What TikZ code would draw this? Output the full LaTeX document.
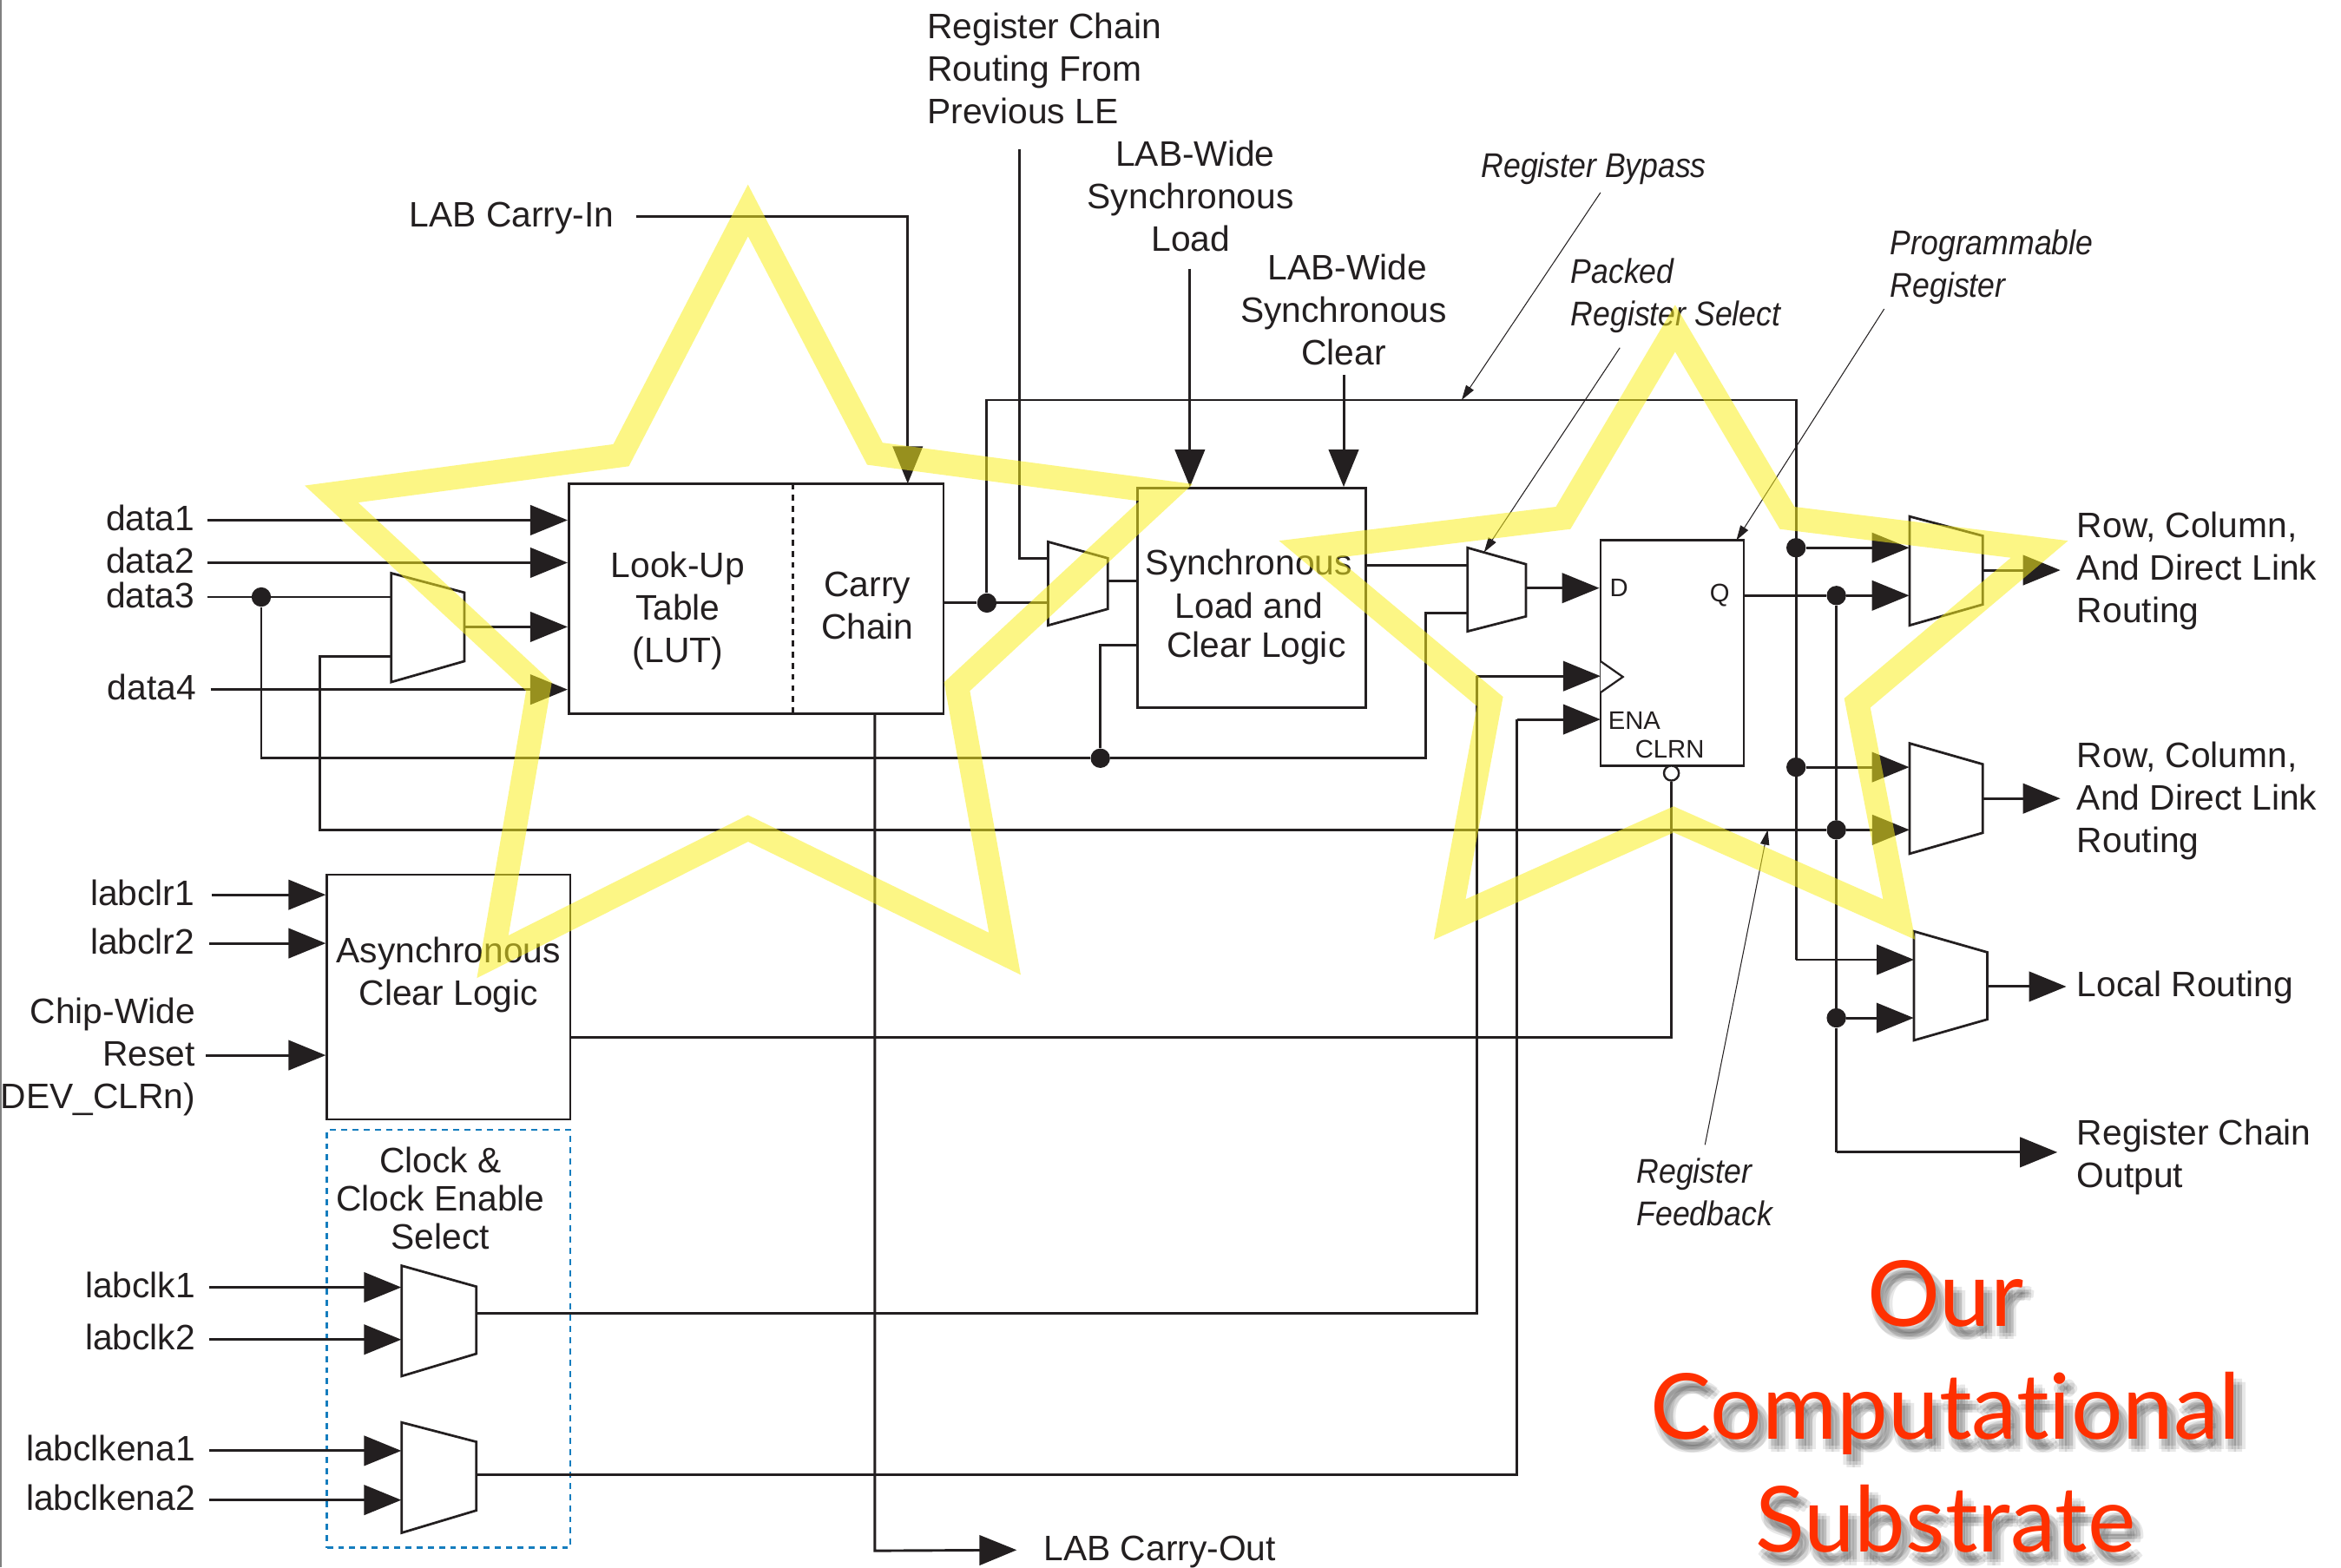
\documentclass[tikz,border=0pt]{standalone}
\usepackage{fontspec}
\setmainfont{Liberation Sans}
\newfontfamily\annotfont[FakeStretch=0.9]{Liberation Sans}
\newfontfamily\titlefont[Ligatures=NoCommon]{Lato}
\usetikzlibrary{arrows.meta,calc}
\definecolor{ink}{HTML}{231F20}
\definecolor{hilite}{RGB}{250,240,30}
\definecolor{titlered}{RGB}{255,48,0}
\definecolor{dashblue}{RGB}{20,125,190}
\tikzset{
  x=1pt,y=-1pt,
  wire/.style={draw=ink,line width=1.7pt,line join=miter},
  arr/.style={wire,-{Triangle[length=25pt,width=20pt]}},
  note/.style={draw=ink,line width=0.6pt,-{Triangle[length=10pt,width=6pt]}},
  lbl/.style={font=\fontsize{23.7}{28.5}\selectfont,text=ink,inner ysep=0pt,inner xsep=0pt,text height=17pt,text depth=3pt},
  mtext/.style={font=\fontsize{23.7}{28.5}\selectfont,text=ink,inner sep=0pt},
  itext/.style={font=\annotfont\itshape\fontsize{23}{28.5}\selectfont,text=ink,inner sep=0pt,align=left,anchor=west},
  small/.style={font=\fontsize{17}{20}\selectfont,text=ink,inner sep=0pt,anchor=west},
  box/.style={draw=ink,line width=1.6pt,fill=white,inner sep=0pt},
  dot/.style={circle,fill=ink,inner sep=0pt,minimum size=13pt},
  muxbody/.style={draw=ink,line width=1.6pt,fill=white,line join=miter},
  star/.style={draw=hilite,line width=16pt,opacity=0.54,line join=miter,miter limit=10},
  red/.style={font=\titlefont\fontsize{61}{76}\selectfont,inner sep=0pt,anchor=base},
}
% name, x left, x right, y top left, y top right, y bottom right, y bottom left
\newcommand{\muxblock}[7]{%
  \draw[muxbody] (#2,#4) -- (#3,#5) -- (#3,#6) -- (#2,#7) -- cycle;
  \node[inner sep=0pt,minimum width=#3pt-#2pt,minimum height=#7pt-#4pt] (#1) at ({(#2+#3)/2},{(#4+#7)/2}) {};
}
\begin{document}
\begin{tikzpicture}
\useasboundingbox (0,0) rectangle (1568,1050);
\fill[white] (0,0) rectangle (1568,1050);
\draw[gray,line width=1.5pt] (0.5,0) -- (0.5,1050);

% boxes
\node[box,minimum width=251pt,minimum height=154pt] (lut) at (506.5,401) {};
\node[box,minimum width=153pt,minimum height=147pt] (sync) at (838.5,400.5) {};
\node[box,minimum width=163pt,minimum height=164pt] (async) at (300.5,668) {};
\node[box,line width=1.5pt,minimum width=96pt,minimum height=151pt] (reg) at (1120,437.5) {};
\node[draw=dashblue,dashed,dash pattern=on 4pt off 3.5pt,line width=1.5pt,inner sep=0pt,minimum width=163pt,minimum height=280pt] (clkbox) at (300.5,897) {};
\coordinate (divT) at (531,324);
\coordinate (divB) at (531,478);
\draw[ink,line width=1.5pt,dash pattern=on 4pt off 3.5pt] (divT) -- (divB);

% muxes
\muxblock{mlut}{262}{311}{384}{397}{443}{457}
\muxblock{mcar}{702}{742}{363}{374}{408}{419}
\muxblock{mreg}{983}{1022}{367}{378}{413}{423}
\muxblock{mA}{1279}{1328}{346}{359}{405}{419}
\muxblock{mB}{1279}{1328}{498}{512}{558}{572}
\muxblock{mC}{1282}{1331}{624}{638}{683}{697}
\muxblock{mclk}{269}{319}{848}{862}{907}{922}
\muxblock{mena}{269}{319}{953}{966}{1012}{1027}

% box text
\node[mtext,align=center] (lutT) at (454,409.5) {Look-Up\\Table\\(LUT)};
\node[mtext,align=center] (carT) at (581,405.5) {Carry\\Chain};
\node[mtext] (syn1) at (836.5,379) {Synchronous};
\node[mtext] (syn2) at (836.5,405.5) {Load and};
\node[mtext] (syn3) at (841.5,434) {Clear Logic};
\node[mtext,align=center] (asyT) at (300.5,653) {Asynchronous\\Clear Logic};
\node[mtext,font=\fontsize{23.7}{25.5}\selectfont,align=center] (clkT) at (295,803) {Clock \&\\Clock Enable\\Select};
\node[small] (pD) at (1078,394) {D};
\node[small] (pQ) at (1145,399) {Q};
\node[small] (pE) at (1077,483) {ENA};
\node[small] (pC) at (1095,502) {CLRN};
\node[draw=ink,line width=1.4pt,fill=white,circle,inner sep=0pt,minimum size=10pt] (clrn) at (1119.5,518) {};
\coordinate (ck1) at (1072,443);
\coordinate (ck2) at (1087,453.5);
\coordinate (ck3) at (1072,464);
\draw[ink,line width=1.3pt,fill=white] (ck1) -- (ck2) -- (ck3);

% left labels
\node[lbl,anchor=east,inner xsep=8.5pt] (d1) at (139,348.5) {data1};
\node[lbl,anchor=east,inner xsep=8.5pt] (d2) at (139,377) {data2};
\node[lbl,anchor=east,inner xsep=8.5pt] (d3) at (139,400) {data3};
\node[lbl,anchor=east,inner xsep=9.5pt] (d4) at (141,462) {data4};
\node[lbl,anchor=east,inner xsep=11.5pt] (clr1) at (142,599.5) {labclr1};
\node[lbl,anchor=east,inner xsep=9.5pt] (clr2) at (140,632) {labclr2};
\node[lbl,anchor=east,inner xsep=9pt] (ck1l) at (140,862.5) {labclk1};
\node[lbl,anchor=east,inner xsep=9pt] (ck2l) at (140,897.5) {labclk2};
\node[lbl,anchor=east,inner xsep=9pt] (en1l) at (140,972) {labclkena1};
\node[lbl,anchor=east,inner xsep=9pt] (en2l) at (140,1005) {labclkena2};
\node[mtext,align=right,anchor=east,inner xsep=7pt] (chip) at (138,708) {Chip-Wide\\Reset\\DEV\_CLRn)};

% top and right labels
\node[lbl,anchor=east,inner xsep=14.5pt] (cin) at (426,145) {LAB Carry-In};
\node[mtext,align=left,anchor=west] (rchain) at (621,46) {Register Chain\\Routing From\\Previous LE};
\node[mtext,align=center] (lload) at (797.5,131.5) {\hspace*{6pt}LAB-Wide\\Synchronous\\Load};
\node[mtext,align=center] (lclear) at (900,207.5) {\hspace*{5pt}LAB-Wide\\Synchronous\\Clear};
\node[mtext,align=left,anchor=west,inner xsep=11pt] (rA) at (1380,382.5) {Row, Column,\\And Direct Link\\Routing};
\node[mtext,align=left,anchor=west,inner xsep=11pt] (rB) at (1380,536.5) {Row, Column,\\And Direct Link\\Routing};
\node[lbl,anchor=west,inner xsep=7pt] (lrout) at (1384,661) {Local Routing};
\node[mtext,align=left,anchor=west,inner xsep=13pt] (rcout) at (1378,775.5) {Register Chain\\Output};
\node[lbl,anchor=west,inner xsep=18pt] (cout) at (681,1038.5) {LAB Carry-Out};

% annotations
\node[itext] (nbyp) at (992,113) {Register Bypass};
\node[itext] (npack) at (1052,198) {Packed\\Register Select};
\node[itext] (nprog) at (1266,179) {Programmable\\Register};
\node[itext] (nfeed) at (1096,799) {Register\\Feedback};
\coordinate (nbypS) at (1072,129);
\coordinate (npackS) at (1085,233);
\coordinate (nprogS) at (1262,207);
\coordinate (nfeedS) at (1142,767);
\coordinate (topE) at (979,268);
\coordinate (fbE) at (1184,556);
\coordinate (mregN) at (994,370);
\coordinate (regN) at (1163,362);
\draw[note] (nbypS) -- (topE);
\draw[note] (npackS) -- (mregN);
\draw[note] (nprogS) -- (regN);
\draw[note] (nfeedS) -- (fbE);

% junctions
\node[dot] (jd3) at (175,400) {};
\node[dot] (jcar) at (661,404) {};
\node[dot] (jsel) at (737,508) {};
\node[dot] (jtopA) at (1203,367) {};
\node[dot] (jtopB) at (1203,514) {};
\node[dot] (jqA) at (1230,399) {};
\node[dot] (jqB) at (1230,556) {};
\node[dot] (jqC) at (1230,682) {};

% left inputs
\draw[arr] (d1.east) -- (d1.east -| lut.west);
\draw[arr] (d2.east) -- (d2.east -| lut.west);
\draw[wire] (d3.east) -- (d3.east -| mlut.west);
\draw[arr] (d4.east) -- (d4.east -| lut.west);
\coordinate (mlutO) at (311,420);
\draw[arr] (mlutO) -- (mlutO -| lut.west);
\draw[arr] (clr1.east) -- (clr1.east -| async.west);
\draw[arr] (clr2.east) -- (clr2.east -| async.west);
\coordinate (chipW) at (138,707);
\draw[arr] (chipW) -- (chipW -| async.west);
\draw[arr] (ck1l.east) -- (ck1l.east -| mclk.west);
\draw[arr] (ck2l.east) -- (ck2l.east -| mclk.west);
\draw[arr] (en1l.east) -- (en1l.east -| mena.west);
\draw[arr] (en2l.east) -- (en2l.east -| mena.west);

% shared buses
\coordinate (bus1a) at (175,508);
\coordinate (bus1b) at (955,508);
\coordinate (mregL) at (983,411);
\draw[wire] (jd3) -- (bus1a) -- (jsel) -- (bus1b) -- (bus1b |- mregL) -- (mregL);
\coordinate (syncSel) at (762,432);
\draw[wire] (jsel) -- (jsel |- syncSel) -- (syncSel);
\coordinate (mlutS) at (262,440);
\coordinate (bus2a) at (214,556);
\coordinate (bus2b) at (1279,556);
\draw[wire] (mlutS) -- (bus2a |- mlutS) -- (bus2a) -- (jqB);
\draw[arr] (jqB) -- (bus2b);

% carry chain
\coordinate (carO) at (632,404);
\draw[wire] (carO) -- (jcar) -- (jcar -| mcar.west);
\coordinate (carD) at (586,478);
\coordinate (carDb) at (586,1039);
\draw[arr] (carD) -- (carDb) -- (cout.west);
\coordinate (cinE) at (608,324);
\draw[arr] (cin.east) -- (cin.east -| cinE) -- (cinE);
\coordinate (rcS) at (683,100);
\coordinate (rcE) at (702,374);
\draw[wire] (rcS) -- (rcS |- rcE) -- (rcE);
\coordinate (mcarO) at (742,389);
\draw[wire] (mcarO) -- (mcarO -| sync.west);

% bypass
\coordinate (topL) at (661,268);
\coordinate (topR) at (1203,268);
\coordinate (locIn) at (1282,643);
\draw[wire] (jcar) -- (topL) -- (topR) -- (topR |- locIn);
\draw[arr] (topR |- locIn) -- (locIn);
\draw[arr] (jtopA) -- (jtopA -| mA.west);
\draw[arr] (jtopB) -- (jtopB -| mB.west);

% sync loads
\coordinate (loadS) at (797,180);
\coordinate (clearS) at (900,251);
\draw[arr] (loadS) -- (loadS |- sync.north);
\draw[arr] (clearS) -- (clearS |- sync.north);
\coordinate (syncO) at (915,379);
\draw[wire] (syncO) -- (syncO -| mreg.west);
\coordinate (mregO) at (1022,394);
\draw[arr] (mregO) -- (mregO -| reg.west);

% clock and enable
\coordinate (clkO) at (319,880);
\coordinate (clkV) at (989,880);
\coordinate (clkE) at (1072,453);
\draw[wire] (clkO) -- (clkV) -- (clkV |- clkE);
\draw[arr] (clkV |- clkE) -- (clkE);
\coordinate (enaO) at (319,988);
\coordinate (enaV) at (1016,988);
\coordinate (enaE) at (1072,482);
\draw[wire] (enaO) -- (enaV) -- (enaV |- enaE);
\draw[arr] (enaV |- enaE) -- (enaE);

% clear
\coordinate (asyO) at (382,695);
\draw[wire] (asyO) -- (asyO -| clrn.south) -- (clrn.south);

% register output
\coordinate (regQ) at (1168,399);
\draw[wire] (regQ) -- (jqA);
\draw[arr] (jqA) -- (jqA -| mA.west);
\draw[wire] (jqA) -- (jqB) -- (jqC);
\coordinate (qDown) at (1230,772);
\draw[wire] (jqC) -- (qDown);
\coordinate (rcoutE) at (1378,772);
\draw[arr] (qDown) -- (rcoutE);
\draw[arr] (jqC) -- (jqC -| mC.west);

% outputs
\coordinate (mAo) at (1328,382);
\coordinate (mBo) at (1328,535);
\coordinate (mCo) at (1331,661);
\draw[arr] (mAo) -- (mAo -| rA.west);
\draw[arr] (mBo) -- (mBo -| rB.west);
\draw[arr] (mCo) -- (lrout.west);

% highlight stars
\draw[star] (501,141) -- (416,305) -- (222,331) -- (361,460) -- (330,641) -- (501,555) -- (673,639) -- (641,460) -- (781,330) -- (586,304) -- cycle;
\draw[star] (1122,220) -- (1047,347) -- (876,368) -- (998,470) -- (971,616) -- (1121,549) -- (1272,616) -- (1244,471) -- (1366,368) -- (1197,347) -- cycle;

% title with soft shadow
\foreach \sx/\sy in {2/5,6/5,4/7,2/9,6/9,0/7,8/7}{
  \begin{scope}[opacity=0.09]
    \node[red,text=black] at (1303+\sx,888.5+\sy) {Our};
    \node[red,text=black] at (1303+\sx,964+\sy) {Computational};
    \node[red,text=black] at (1303+\sx,1040+\sy) {Substrate};
  \end{scope}
}
\node[red,text=titlered] (t1) at (1303,888.5) {Our};
\node[red,text=titlered] (t2) at (1303,964) {Computational};
\node[red,text=titlered] (t3) at (1303,1040) {Substrate};
\end{tikzpicture}
\end{document}
